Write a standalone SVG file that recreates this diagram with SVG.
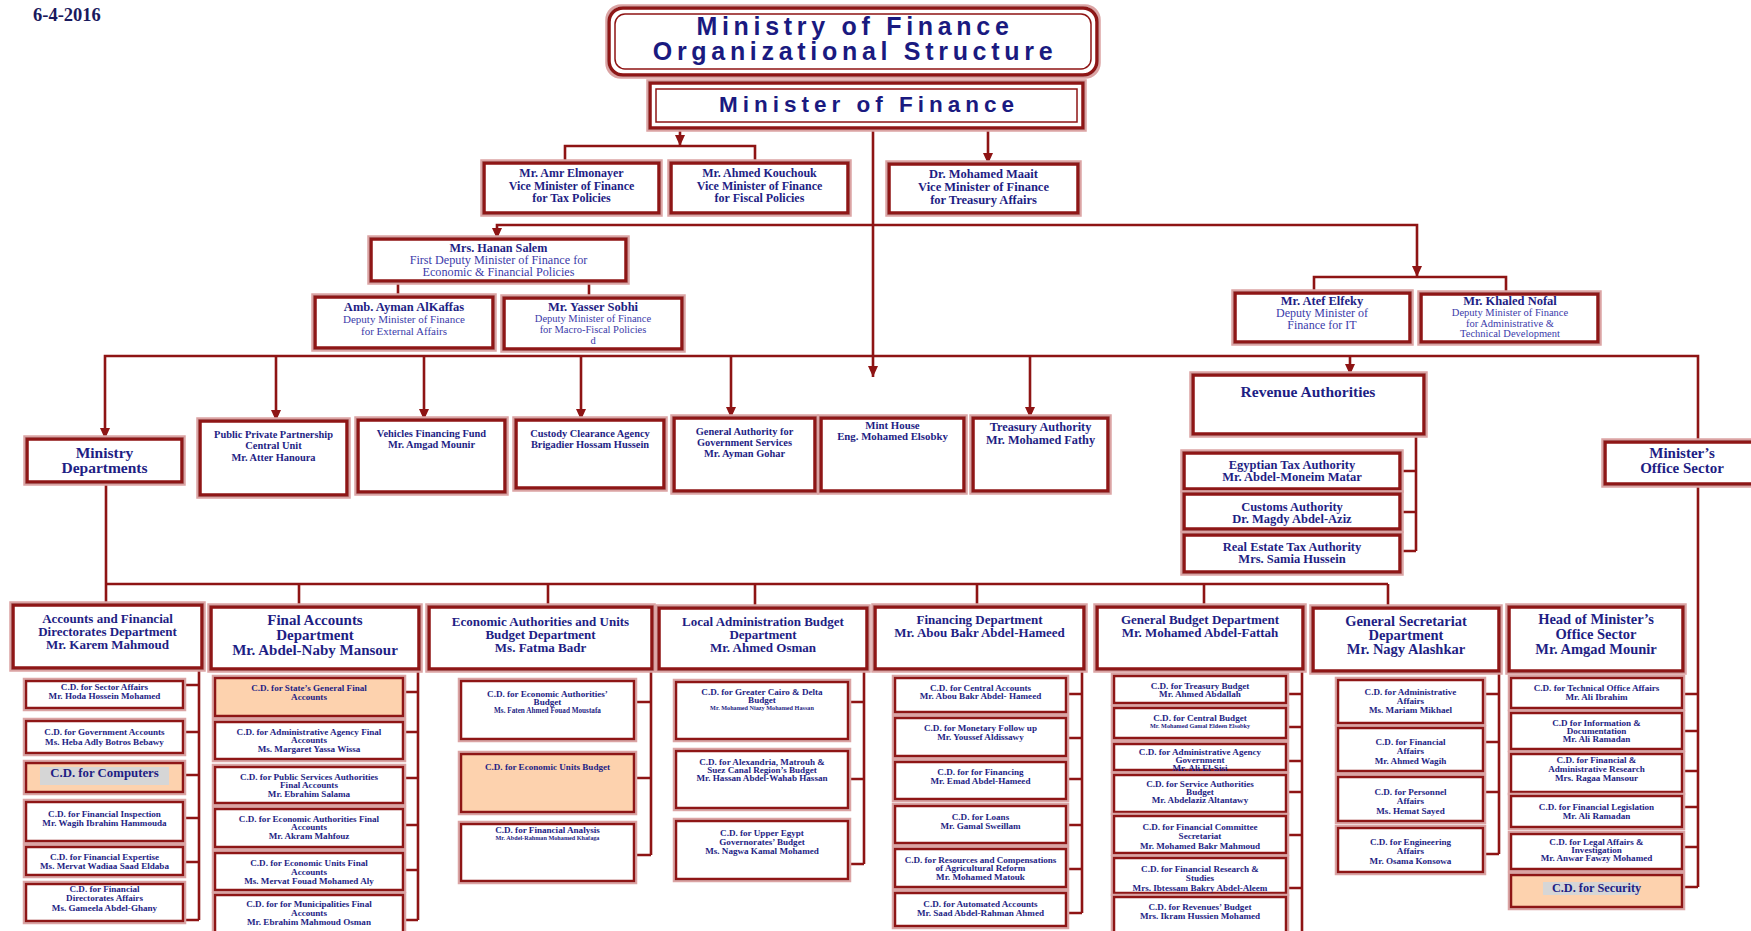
<svg xmlns="http://www.w3.org/2000/svg" width="1751" height="931" viewBox="0 0 1751 931">
<defs>
<filter id="halo" x="-5%" y="-25%" width="110%" height="150%">
<feMorphology in="SourceAlpha" operator="dilate" radius="2" result="d"/>
<feFlood flood-color="#DBA4A4"/>
<feComposite in2="d" operator="in" result="p"/>
<feMerge><feMergeNode in="p"/><feMergeNode in="SourceGraphic"/></feMerge>
</filter>
<marker id="ah" markerUnits="userSpaceOnUse" markerWidth="11" markerHeight="10" refX="11" refY="5" orient="auto"><path d="M0,0 L11,5 L0,10 Z" fill="#8E1414"/></marker>
<marker id="ahs" markerUnits="userSpaceOnUse" markerWidth="11" markerHeight="10" refX="11" refY="5" orient="auto-start-reverse"><path d="M0,0 L11,5 L0,10 Z" fill="#8E1414"/></marker>
<style>
.bx{fill:#fff;stroke:#8E1414;stroke-width:3.5;filter:url(#halo)}
.sb{fill:#fff;stroke:#8E1414;stroke-width:2.5;filter:url(#halo)}
.or{fill:#FDD2AE}
.hl{fill:#D6D6D6}
.in{fill:none;stroke:#8E1414;stroke-width:1.5}
.ln{fill:none;stroke:#8E1414;stroke-width:2.6}
.ar{marker-end:url(#ah)}
text{font-family:"Liberation Serif","Times New Roman",serif;font-weight:bold;fill:#1E1E84;text-anchor:middle}
.sans{font-family:"Liberation Sans",Arial,sans-serif;fill:#1A1A80}
.rg{font-weight:normal;fill:#3B3BAA}
.s{font-size:9.1px}
.xs{font-size:6.2px}
.d{font-size:13px}
.D{font-size:15px}
</style>
</defs>
<rect width="1751" height="931" fill="#fff"/>
<text x="33" y="21" style="font-size:18.5px;text-anchor:start;fill:#1A1A5E">6-4-2016</text>

<g id="connectors">
<line class="ln ar" x1="680" y1="128" x2="680" y2="146"/>
<polyline class="ln" points="565,163 565,146 755,146 755,163"/>
<line class="ln ar" x1="988" y1="128" x2="988" y2="164"/>
<line class="ln ar" x1="873" y1="128" x2="873" y2="377"/>
<path class="ln" d="M497,239 V225 H1417 V277" marker-start="url(#ahs)" marker-end="url(#ah)"/>
<polyline class="ln" points="1314,293 1314,277 1506,277 1506,294"/>
<path class="ln" d="M398,281 V297 M589,281 V298"/>
<path class="ln" d="M105,439 V356 H1698 V442" marker-start="url(#ahs)"/>
<line class="ln ar" x1="276" y1="356" x2="276" y2="421"/>
<line class="ln ar" x1="424" y1="356" x2="424" y2="420"/>
<line class="ln ar" x1="581" y1="356" x2="581" y2="420"/>
<line class="ln ar" x1="731" y1="356" x2="731" y2="418"/>
<line class="ln ar" x1="1030" y1="356" x2="1030" y2="418"/>
<line class="ln ar" x1="1350" y1="356" x2="1350" y2="375"/>
<path class="ln" d="M1416,434 V551 M1400,471 H1416 M1400,512 H1416 M1400,551 H1416"/>
<path class="ln" d="M1698,484 V887 M1682,694 H1698 M1682,731 H1698 M1682,771 H1698 M1682,807 H1698 M1682,847 H1698 M1682,887 H1698"/>
<path class="ln" d="M106,482 V605 M106,584 H1388 M299,584 V607 M548,584 V607 M755,584 V608 M977,584 V607 M1204,584 V607 M1388,584 V608"/>
<path class="ln" d="M199,668 V920 M183,685 H199 M183,732 H199 M183,775 H199 M183,818 H199 M183,862 H199 M183,920 H199"/>
<path class="ln" d="M418,669 V920 M403,692 H418 M403,732 H418 M403,778 H418 M403,825 H418 M403,870 H418 M403,920 H418"/>
<path class="ln" d="M651,669 V855 M634,702 H651 M634,778 H651 M634,855 H651"/>
<path class="ln" d="M864,669 V864 M848,702 H864 M848,779 H864 M848,864 H864"/>
<path class="ln" d="M1082,669 V913 M1066,694 H1082 M1066,738 H1082 M1066,779 H1082 M1066,825 H1082 M1066,869 H1082 M1066,913 H1082"/>
<path class="ln" d="M1302,669 V931 M1286,694 H1302 M1286,727 H1302 M1286,761 H1302 M1286,792 H1302 M1286,835 H1302 M1286,888 H1302"/>
<path class="ln" d="M1499,671 V854 M1483,694 H1499 M1483,742 H1499 M1483,792 H1499 M1483,854 H1499"/>
</g>

<g id="title"><rect class="bx" x="609" y="8" width="488" height="67" rx="14"/><rect class="in" x="615" y="14" width="476" height="55" rx="10"/>
<text class="sans" x="855" y="35" style="font-size:25px;letter-spacing:4.7px">Ministry of Finance</text>
<text class="sans" x="855" y="60" style="font-size:25px;letter-spacing:4.7px">Organizational Structure</text></g>

<g id="minister"><rect class="bx" x="650" y="83" width="433" height="45"/><rect class="in" x="656" y="89" width="421" height="33"/>
<text class="sans" x="869" y="112" style="font-size:22.5px;letter-spacing:5px">Minister of Finance</text></g>

<g id="vm-tax"><rect class="bx" x="484" y="163" width="175" height="50"/>
<text style="font-size:12px"><tspan x="571.5" y="177">Mr. Amr  Elmonayer</tspan><tspan x="571.5" y="189.5">Vice Minister of Finance</tspan><tspan x="571.5" y="202">for Tax Policies</tspan></text></g>
<g id="vm-fiscal"><rect class="bx" x="671" y="163" width="177" height="50"/>
<text style="font-size:12px"><tspan x="759.5" y="177">Mr. Ahmed Kouchouk</tspan><tspan x="759.5" y="189.5">Vice Minister of Finance</tspan><tspan x="759.5" y="202">for Fiscal Policies</tspan></text></g>
<g id="vm-treasury"><rect class="bx" x="889" y="164" width="189" height="49"/>
<text style="font-size:12.5px"><tspan x="983.5" y="178">Dr. Mohamed Maait</tspan><tspan x="983.5" y="191">Vice Minister of Finance</tspan><tspan x="983.5" y="204">for Treasury Affairs</tspan></text></g>

<g id="hanan"><rect class="bx" x="371" y="239" width="255" height="42"/>
<text style="font-size:12.2px"><tspan x="498.5" y="252">Mrs. Hanan Salem</tspan><tspan class="rg" x="498.5" y="264">First Deputy Minister of Finance for</tspan><tspan class="rg" x="498.5" y="276">Economic &amp; Financial Policies</tspan></text></g>
<g id="ayman"><rect class="bx" x="315" y="297" width="178" height="51"/>
<text style="font-size:12.5px"><tspan x="404" y="311">Amb. Ayman AlKaffas</tspan><tspan class="rg" x="404" y="323" style="font-size:11px">Deputy Minister of Finance</tspan><tspan class="rg" x="404" y="334.5" style="font-size:11px">for External Affairs</tspan></text></g>
<g id="yasser"><rect class="bx" x="504" y="298" width="178" height="51"/>
<text style="font-size:12.5px"><tspan x="593" y="311">Mr. Yasser Sobhi</tspan><tspan class="rg" x="593" y="322" style="font-size:10.5px">Deputy Minister of Finance</tspan><tspan class="rg" x="593" y="333" style="font-size:10.5px">for Macro-Fiscal Policies</tspan><tspan class="rg" x="593" y="344" style="font-size:10.5px">d</tspan></text></g>
<g id="atef"><rect class="bx" x="1235" y="293" width="175" height="49"/>
<text style="font-size:12.5px"><tspan x="1322" y="305">Mr. Atef Elfeky</tspan><tspan class="rg" x="1322" y="317" style="font-size:12px">Deputy Minister of</tspan><tspan class="rg" x="1322" y="329" style="font-size:12px">Finance for IT</tspan></text></g>
<g id="khaled"><rect class="bx" x="1421" y="294" width="177" height="48"/>
<text style="font-size:12.5px"><tspan x="1510" y="305">Mr. Khaled Nofal</tspan><tspan class="rg" x="1510" y="316" style="font-size:10.5px">Deputy Minister of Finance</tspan><tspan class="rg" x="1510" y="326.5" style="font-size:10.5px">for Administrative &amp;</tspan><tspan class="rg" x="1510" y="337" style="font-size:10.5px">Technical Development</tspan></text></g>

<g id="ministry-departments"><rect class="bx" x="27" y="439" width="155" height="43"/>
<text style="font-size:15.5px"><tspan x="104.5" y="458">Ministry</tspan><tspan x="104.5" y="473">Departments</tspan></text></g>
<g id="ppp"><rect class="bx" x="200" y="421" width="147" height="74"/>
<text style="font-size:10.4px"><tspan x="273.5" y="438">Public Private Partnership</tspan><tspan x="273.5" y="449">Central Unit</tspan><tspan x="273.5" y="461">Mr. Atter Hanoura</tspan></text></g>
<g id="vehicles"><rect class="bx" x="358" y="420" width="147" height="72"/>
<text style="font-size:10.4px"><tspan x="431.5" y="437">Vehicles Financing Fund</tspan><tspan x="431.5" y="448">Mr. Amgad Mounir</tspan></text></g>
<g id="custody"><rect class="bx" x="516" y="420" width="148" height="68"/>
<text style="font-size:10.4px"><tspan x="590" y="437">Custody Clearance Agency</tspan><tspan x="590" y="448">Brigadier Hossam Hussein</tspan></text></g>
<g id="gags"><rect class="bx" x="674" y="418" width="141" height="73"/>
<text style="font-size:10.4px"><tspan x="744.5" y="435">General Authority for</tspan><tspan x="744.5" y="446">Government Services</tspan><tspan x="744.5" y="457">Mr. Ayman Gohar</tspan></text></g>
<g id="mint"><rect class="bx" x="821" y="418" width="143" height="73"/>
<text style="font-size:10.8px"><tspan x="892.5" y="429">Mint House</tspan><tspan x="892.5" y="440">Eng. Mohamed  Elsobky</tspan></text></g>
<g id="treasury-authority"><rect class="bx" x="973" y="418" width="135" height="73"/>
<text style="font-size:12.3px"><tspan x="1040.5" y="431">Treasury Authority</tspan><tspan x="1040.5" y="444">Mr. Mohamed Fathy</tspan></text></g>
<g id="revenue"><rect class="bx" x="1193" y="375" width="231" height="59"/>
<text x="1308" y="397" style="font-size:15.5px">Revenue Authorities</text></g>
<g id="eta"><rect class="bx" x="1184" y="453" width="216" height="36"/>
<text style="font-size:12.5px"><tspan x="1292" y="469">Egyptian Tax Authority</tspan><tspan x="1292" y="481">Mr. Abdel-Moneim Matar</tspan></text></g>
<g id="customs"><rect class="bx" x="1184" y="494" width="216" height="35"/>
<text style="font-size:12.5px"><tspan x="1292" y="510.5">Customs Authority</tspan><tspan x="1292" y="522.5">Dr. Magdy Abdel-Aziz</tspan></text></g>
<g id="realestate"><rect class="bx" x="1184" y="535" width="216" height="37"/>
<text style="font-size:12.5px"><tspan x="1292" y="551">Real Estate Tax Authority</tspan><tspan x="1292" y="563">Mrs. Samia Hussein</tspan></text></g>
<g id="ministers-office"><rect class="bx" x="1605" y="442" width="152" height="42"/>
<text style="font-size:15px"><tspan x="1682" y="458">Minister’s</tspan><tspan x="1682" y="473">Office Sector</tspan></text></g>

<g id="dept-accounts"><rect class="bx" x="13" y="605" width="189" height="63"/>
<text class="d"><tspan x="107.5" y="623">Accounts and Financial</tspan><tspan x="107.5" y="636">Directorates Department</tspan><tspan x="107.5" y="649">Mr. Karem Mahmoud</tspan></text>
<rect class="sb" x="26" y="681" width="157" height="27"/><text class="s"><tspan x="104.5" y="690">C.D. for Sector Affairs</tspan><tspan x="104.5" y="699">Mr. Hoda Hossein Mohamed</tspan></text>
<rect class="sb" x="26" y="721" width="157" height="32"/><text class="s"><tspan x="104.5" y="735">C.D. for Government Accounts</tspan><tspan x="104.5" y="745">Ms. Heba Adly Botros Bebawy</tspan></text>
<rect class="sb or" x="26" y="763" width="157" height="29"/><rect class="hl" x="40" y="767" width="129" height="18"/><text x="104.5" y="777" style="font-size:12.8px">C.D. for Computers</text>
<rect class="sb" x="26" y="802" width="157" height="39"/><text class="s"><tspan x="104.5" y="817">C.D. for Financial Inspection</tspan><tspan x="104.5" y="826">Mr. Wagih Ibrahim Hammouda</tspan></text>
<rect class="sb" x="26" y="847" width="157" height="28"/><text class="s"><tspan x="104.5" y="860">C.D. for Financial Expertise</tspan><tspan x="104.5" y="869">Ms. Mervat Wadiaa Saad Eldaba</tspan></text>
<rect class="sb" x="26" y="884" width="157" height="37"/><text class="s"><tspan x="104.5" y="892">C.D. for Financial</tspan><tspan x="104.5" y="901">Directorates Affairs</tspan><tspan x="104.5" y="911">Ms. Gameela Abdel-Ghany</tspan></text>
</g>

<g id="dept-final"><rect class="bx" x="211" y="607" width="208" height="62"/>
<text class="D"><tspan x="315" y="625">Final Accounts</tspan><tspan x="315" y="640">Department</tspan><tspan x="315" y="655">Mr. Abdel-Naby Mansour</tspan></text>
<rect class="sb or" x="215" y="678" width="188" height="38"/><text class="s"><tspan x="309" y="691">C.D. for State’s General Final</tspan><tspan x="309" y="700">Accounts</tspan></text>
<rect class="sb" x="215" y="722" width="188" height="37"/><text class="s"><tspan x="309" y="735">C.D. for Administrative Agency Final</tspan><tspan x="309" y="743">Accounts</tspan><tspan x="309" y="752">Ms. Margaret Yassa Wissa</tspan></text>
<rect class="sb" x="215" y="767" width="188" height="36"/><text class="s"><tspan x="309" y="780">C.D. for Public Services Authorities</tspan><tspan x="309" y="788">Final Accounts</tspan><tspan x="309" y="797">Mr. Ebrahim Salama</tspan></text>
<rect class="sb" x="215" y="809" width="188" height="38"/><text class="s"><tspan x="309" y="822">C.D. for Economic Authorities Final</tspan><tspan x="309" y="830">Accounts</tspan><tspan x="309" y="839">Mr. Akram Mahfouz</tspan></text>
<rect class="sb" x="215" y="853" width="188" height="37"/><text class="s"><tspan x="309" y="866">C.D. for Economic Units Final</tspan><tspan x="309" y="875">Accounts</tspan><tspan x="309" y="884">Ms. Mervat Fouad Mohamed Aly</tspan></text>
<rect class="sb" x="215" y="895" width="188" height="40"/><text class="s"><tspan x="309" y="907">C.D. for for Municipalities Final</tspan><tspan x="309" y="916">Accounts</tspan><tspan x="309" y="925">Mr. Ebrahim Mahmoud Osman</tspan></text>
</g>

<g id="dept-economic"><rect class="bx" x="429" y="607" width="223" height="62"/>
<text class="d"><tspan x="540.5" y="626">Economic Authorities and Units</tspan><tspan x="540.5" y="639">Budget Department</tspan><tspan x="540.5" y="652">Ms. Fatma Badr</tspan></text>
<rect class="sb" x="461" y="681" width="173" height="58"/><text class="s"><tspan x="547.5" y="697">C.D. for Economic Authorities’</tspan><tspan x="547.5" y="705">Budget</tspan><tspan x="547.5" y="713" style="font-size:7.2px">Ms. Faten Ahmed Fouad Moustafa</tspan></text>
<rect class="sb or" x="461" y="754" width="173" height="58"/><text x="547.5" y="770" class="s">C.D. for Economic Units Budget</text>
<rect class="sb" x="461" y="824" width="173" height="57"/><text class="s"><tspan x="547.5" y="833">C.D. for Financial Analysis</tspan><tspan x="547.5" y="840" class="xs">Mr. Abdel-Rahman Mohamed Khafaga</tspan></text>
</g>

<g id="dept-local"><rect class="bx" x="659" y="608" width="208" height="61"/>
<text class="d"><tspan x="763" y="626">Local Administration Budget</tspan><tspan x="763" y="639">Department</tspan><tspan x="763" y="652">Mr. Ahmed Osman</tspan></text>
<rect class="sb" x="676" y="682" width="172" height="57"/><text class="s"><tspan x="762" y="695">C.D. for Greater Cairo &amp; Delta</tspan><tspan x="762" y="703">Budget</tspan><tspan x="762" y="710" class="xs">Mr. Mohamed Niazy Mohamed Hassan</tspan></text>
<rect class="sb" x="676" y="751" width="172" height="57"/><text class="s"><tspan x="762" y="765">C.D. for Alexandria, Matrouh &amp;</tspan><tspan x="762" y="773">Suez Canal Region’s Budget</tspan><tspan x="762" y="781">Mr. Hassan Abdel-Wahab Hassan</tspan></text>
<rect class="sb" x="676" y="821" width="172" height="58"/><text class="s"><tspan x="762" y="836">C.D. for Upper Egypt</tspan><tspan x="762" y="845">Governorates’ Budget</tspan><tspan x="762" y="854">Ms. Nagwa Kamal Mohamed</tspan></text>
</g>

<g id="dept-financing"><rect class="bx" x="875" y="607" width="209" height="62"/>
<text class="d"><tspan x="979.5" y="624">Financing Department</tspan><tspan x="979.5" y="637">Mr. Abou Bakr Abdel-Hameed</tspan></text>
<rect class="sb" x="895" y="678" width="171" height="34"/><text class="s"><tspan x="980.5" y="691">C.D. for Central Accounts</tspan><tspan x="980.5" y="699">Mr. Abou Bakr Abdel- Hameed</tspan></text>
<rect class="sb" x="895" y="718" width="171" height="38"/><text class="s"><tspan x="980.5" y="731">C.D. for Monetary Follow up</tspan><tspan x="980.5" y="740">Mr. Youssef Aldissawy</tspan></text>
<rect class="sb" x="895" y="762" width="171" height="37"/><text class="s"><tspan x="980.5" y="775">C.D. for for Financing</tspan><tspan x="980.5" y="784">Mr. Emad Abdel-Hameed</tspan></text>
<rect class="sb" x="895" y="806" width="171" height="37"/><text class="s"><tspan x="980.5" y="820">C.D. for Loans</tspan><tspan x="980.5" y="829">Mr. Gamal Sweillam</tspan></text>
<rect class="sb" x="895" y="849" width="171" height="38"/><text class="s"><tspan x="980.5" y="863">C.D. for Resources and Compensations</tspan><tspan x="980.5" y="871">of Agricultural Reform</tspan><tspan x="980.5" y="880">Mr. Mohamed Matouk</tspan></text>
<rect class="sb" x="895" y="893" width="171" height="33"/><text class="s"><tspan x="980.5" y="907">C.D. for Automated Accounts</tspan><tspan x="980.5" y="916">Mr. Saad Abdel-Rahman Ahmed</tspan></text>
</g>

<g id="dept-general-budget"><rect class="bx" x="1097" y="607" width="206" height="62"/>
<text class="d"><tspan x="1200" y="624">General Budget Department</tspan><tspan x="1200" y="637">Mr. Mohamed Abdel-Fattah</tspan></text>
<rect class="sb" x="1114" y="676" width="172" height="27"/><text class="s"><tspan x="1200" y="689">C.D. for Treasury Budget</tspan><tspan x="1200" y="697">Mr. Ahmed Abdallah</tspan></text>
<rect class="sb" x="1114" y="708" width="172" height="30"/><text class="s"><tspan x="1200" y="721">C.D. for Central Budget</tspan><tspan x="1200" y="728" class="xs">Mr. Mohamed Gamal Eldeen Elsobky</tspan></text>
<rect class="sb" x="1114" y="744" width="172" height="26"/><text class="s"><tspan x="1200" y="755">C.D. for Administrative Agency</tspan><tspan x="1200" y="763">Government</tspan><tspan x="1200" y="771">Mr. Ali El-Sisi</tspan></text>
<rect class="sb" x="1114" y="775" width="172" height="37"/><text class="s"><tspan x="1200" y="787">C.D. for Service Authorities</tspan><tspan x="1200" y="795">Budget</tspan><tspan x="1200" y="803">Mr. Abdelaziz Altantawy</tspan></text>
<rect class="sb" x="1114" y="816" width="172" height="37"/><text class="s"><tspan x="1200" y="830">C.D. for Financial Committee</tspan><tspan x="1200" y="839">Secretariat</tspan><tspan x="1200" y="849">Mr. Mohamed Bakr Mahmoud</tspan></text>
<rect class="sb" x="1114" y="858" width="172" height="35"/><text class="s"><tspan x="1200" y="872">C.D. for Financial Research &amp;</tspan><tspan x="1200" y="881">Studies</tspan><tspan x="1200" y="891">Mrs. Ibtessam Bakry Abdel-Aleem</tspan></text>
<rect class="sb" x="1114" y="897" width="172" height="40"/><text class="s"><tspan x="1200" y="910">C.D. for Revenues’ Budget</tspan><tspan x="1200" y="919">Mrs. Ikram Hussien  Mohamed</tspan></text>
</g>

<g id="dept-secretariat"><rect class="bx" x="1313" y="608" width="186" height="63"/>
<text style="font-size:14.5px"><tspan x="1406" y="626">General Secretariat</tspan><tspan x="1406" y="640">Department</tspan><tspan x="1406" y="654">Mr. Nagy Alashkar</tspan></text>
<rect class="sb" x="1338" y="680" width="145" height="43"/><text class="s"><tspan x="1410.5" y="695">C.D. for Administrative</tspan><tspan x="1410.5" y="704">Affairs</tspan><tspan x="1410.5" y="713">Ms. Mariam Mikhael</tspan></text>
<rect class="sb" x="1338" y="728" width="145" height="43"/><text class="s"><tspan x="1410.5" y="745">C.D. for Financial</tspan><tspan x="1410.5" y="754">Affairs</tspan><tspan x="1410.5" y="764">Mr. Ahmed Wagih</tspan></text>
<rect class="sb" x="1338" y="777" width="145" height="44"/><text class="s"><tspan x="1410.5" y="795">C.D. for Personnel</tspan><tspan x="1410.5" y="804">Affairs</tspan><tspan x="1410.5" y="814">Ms. Hemat Sayed</tspan></text>
<rect class="sb" x="1338" y="828" width="145" height="44"/><text class="s"><tspan x="1410.5" y="845">C.D. for Engineering</tspan><tspan x="1410.5" y="854">Affairs</tspan><tspan x="1410.5" y="864">Mr. Osama Konsowa</tspan></text>
</g>

<g id="dept-head-office"><rect class="bx" x="1509" y="607" width="174" height="64"/>
<text style="font-size:14.5px"><tspan x="1596" y="624">Head of Minister’s</tspan><tspan x="1596" y="639">Office Sector</tspan><tspan x="1596" y="654">Mr. Amgad Mounir</tspan></text>
<rect class="sb" x="1511" y="678" width="171" height="30"/><text class="s"><tspan x="1596.5" y="691">C.D. for Technical Office Affairs</tspan><tspan x="1596.5" y="700">Mr. Ali Ibrahim</tspan></text>
<rect class="sb" x="1511" y="713" width="171" height="36"/><text class="s"><tspan x="1596.5" y="726">C.D for Information &amp;</tspan><tspan x="1596.5" y="734">Documentation</tspan><tspan x="1596.5" y="742">Mr. Ali Ramadan</tspan></text>
<rect class="sb" x="1511" y="754" width="171" height="38"/><text class="s"><tspan x="1596.5" y="763">C.D. for Financial &amp;</tspan><tspan x="1596.5" y="772">Administrative Research</tspan><tspan x="1596.5" y="781">Mrs. Ragaa Mansour</tspan></text>
<rect class="sb" x="1511" y="796" width="171" height="31"/><text class="s"><tspan x="1596.5" y="810">C.D. for Financial Legislation</tspan><tspan x="1596.5" y="819">Mr. Ali Ramadan</tspan></text>
<rect class="sb" x="1511" y="834" width="171" height="35"/><text class="s"><tspan x="1596.5" y="845">C.D. for Legal Affairs &amp;</tspan><tspan x="1596.5" y="853">Investigation</tspan><tspan x="1596.5" y="861">Mr. Anwar Fawzy Mohamed</tspan></text>
<rect class="sb or" x="1511" y="875" width="171" height="32"/><rect class="hl" x="1543" y="882" width="96" height="13"/><text x="1596.5" y="892" style="font-size:12.3px">C.D. for Security</text>
</g>
</svg>
